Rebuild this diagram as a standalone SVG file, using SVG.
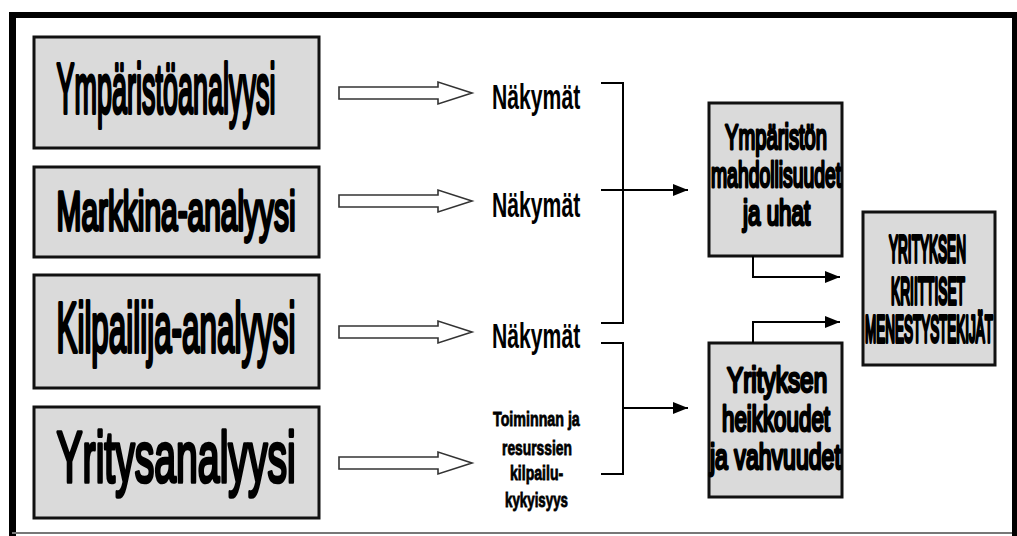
<svg xmlns="http://www.w3.org/2000/svg" width="1017" height="536" viewBox="0 0 1017 536">
  <defs>
    <style>
      .box { fill: #dadada; stroke: #111; stroke-width: 3; }
      .big { font-family: "Liberation Sans", Arial, sans-serif; fill: #000; stroke: #000; stroke-width: 3; stroke-linejoin: round; vector-effect: non-scaling-stroke; }
      .mid { font-family: "Liberation Sans", Arial, sans-serif; fill: #000; stroke: #000; stroke-width: 2.4; stroke-linejoin: round; vector-effect: non-scaling-stroke; font-size: 35px; }
      .cap { font-family: "Liberation Sans", Arial, sans-serif; fill: #000; stroke: #000; stroke-width: 3; stroke-linejoin: round; vector-effect: non-scaling-stroke; font-size: 37px; }
      .lbl { font-family: "Liberation Sans", Arial, sans-serif; font-weight: bold; fill: #000; }
      .sml { stroke: #000; stroke-width: 0.7; vector-effect: non-scaling-stroke; }
      .hollow { fill: #fff; stroke: #333; stroke-width: 1.6; stroke-linejoin: miter; }
      .wire { fill: none; stroke: #000; stroke-width: 2; }
    </style>
    <marker id="head" markerUnits="userSpaceOnUse" markerWidth="15" markerHeight="12" refX="15" refY="6" orient="auto">
      <path d="M0,0 L15,6 L0,12 Z" fill="#000"/>
    </marker>
  </defs>

  <rect width="1017" height="536" fill="#fff"/>

  <!-- outer frame -->
  <g id="frame">
    <line x1="9" y1="15" x2="1017" y2="15" stroke="#000" stroke-width="6"/>
    <line x1="12.5" y1="12" x2="12.5" y2="536" stroke="#000" stroke-width="7"/>
    <line x1="1014.5" y1="12" x2="1014.5" y2="536" stroke="#000" stroke-width="5"/>
    <line x1="12" y1="533" x2="1012" y2="533" stroke="#777" stroke-width="2"/>
  </g>

  <!-- analysis boxes (condensed lettering: horizontal scale + exact length) -->
  <g id="ymparistoanalyysi">
    <rect class="box" x="34" y="37" width="285" height="111"/>
    <text class="big" transform="translate(56.5,113) scale(0.38,1)" font-size="71" textLength="576" lengthAdjust="spacingAndGlyphs">Ympäristöanalyysi</text>
  </g>
  <g id="markkina-analyysi">
    <rect class="box" x="34" y="167" width="285" height="90"/>
    <text class="big" transform="translate(56.5,230) scale(0.53,1)" font-size="56" textLength="451" lengthAdjust="spacingAndGlyphs">Markkina-analyysi</text>
  </g>
  <g id="kilpailija-analyysi">
    <rect class="box" x="34" y="275" width="285" height="113"/>
    <text class="big" transform="translate(56.5,352) scale(0.45,1)" font-size="70" textLength="531" lengthAdjust="spacingAndGlyphs">Kilpailija-analyysi</text>
  </g>
  <g id="yritysanalyysi">
    <rect class="box" x="34" y="407" width="285" height="111"/>
    <text class="big" transform="translate(56.5,482) scale(0.54,1)" font-size="72" textLength="443" lengthAdjust="spacingAndGlyphs">Yritysanalyysi</text>
  </g>

  <!-- outcome labels -->
  <g id="nakymat-1">
    <text class="lbl" transform="translate(492,109) scale(0.6,1)" font-size="35" textLength="147" lengthAdjust="spacingAndGlyphs">Näkymät</text>
  </g>
  <g id="nakymat-2">
    <text class="lbl" transform="translate(492,217) scale(0.6,1)" font-size="35" textLength="147" lengthAdjust="spacingAndGlyphs">Näkymät</text>
  </g>
  <g id="nakymat-3">
    <text class="lbl" transform="translate(492,348) scale(0.6,1)" font-size="35" textLength="147" lengthAdjust="spacingAndGlyphs">Näkymät</text>
  </g>
  <g id="kilpailukykyisyys">
    <text class="lbl sml" transform="translate(493,426) scale(0.7,1)" font-size="20" textLength="124" lengthAdjust="spacingAndGlyphs">Toiminnan ja</text>
    <text class="lbl sml" transform="translate(502,455) scale(0.7,1)" font-size="20" textLength="100" lengthAdjust="spacingAndGlyphs">resurssien</text>
    <text class="lbl sml" transform="translate(510,480) scale(0.7,1)" font-size="20" textLength="76" lengthAdjust="spacingAndGlyphs">kilpailu-</text>
    <text class="lbl sml" transform="translate(505,507) scale(0.7,1)" font-size="20" textLength="90" lengthAdjust="spacingAndGlyphs">kykyisyys</text>
  </g>

  <!-- synthesis boxes -->
  <g id="mahdollisuudet-ja-uhat">
    <rect class="box" x="709" y="103" width="133" height="153"/>
    <text class="mid" transform="translate(725,149) scale(0.6,1)" textLength="170" lengthAdjust="spacingAndGlyphs">Ympäristön</text>
    <text class="mid" transform="translate(711,187) scale(0.6,1)" textLength="217" lengthAdjust="spacingAndGlyphs">mahdollisuudet</text>
    <text class="mid" transform="translate(743,225) scale(0.6,1)" textLength="112" lengthAdjust="spacingAndGlyphs">ja uhat</text>
  </g>
  <g id="heikkoudet-ja-vahvuudet">
    <rect class="box" x="709" y="343" width="133" height="154"/>
    <text class="mid" transform="translate(727,392) scale(0.6,1)" textLength="167" lengthAdjust="spacingAndGlyphs">Yrityksen</text>
    <text class="mid" transform="translate(722,431) scale(0.6,1)" textLength="180" lengthAdjust="spacingAndGlyphs">heikkoudet</text>
    <text class="mid" transform="translate(710,469) scale(0.6,1)" textLength="218" lengthAdjust="spacingAndGlyphs">ja vahvuudet</text>
  </g>
  <g id="menestystekijat">
    <rect class="box" x="863" y="212" width="132" height="153"/>
    <text class="cap" transform="translate(889,262) scale(0.37,1)" textLength="208" lengthAdjust="spacingAndGlyphs">YRITYKSEN</text>
    <text class="cap" transform="translate(891,304) scale(0.37,1)" textLength="200" lengthAdjust="spacingAndGlyphs">KRIITTISET</text>
    <text class="cap" transform="translate(865,342) scale(0.37,1)" textLength="346" lengthAdjust="spacingAndGlyphs">MENESTYSTEKIJÄT</text>
  </g>

  <!-- connectors -->
  <g id="connectors">
    <path class="hollow" d="M339,87 H438 V82 L472,93 L438,104 V99 H339 Z"/>
    <path class="hollow" d="M339,195 H438 V190 L472,201 L438,212 V207 H339 Z"/>
    <path class="hollow" d="M339,326 H438 V321 L472,332 L438,343 V338 H339 Z"/>
    <path class="hollow" d="M339,457 H438 V452 L472,463 L438,474 V469 H339 Z"/>

    <path class="wire" d="M601,83 H623 V323 H601"/>
    <path class="wire" d="M601,190 H688" marker-end="url(#head)"/>
    <path class="wire" d="M601,343 H623 V474 H601"/>
    <path class="wire" d="M623,408 H688" marker-end="url(#head)"/>

    <path class="wire" d="M753,256 V277 H840" marker-end="url(#head)"/>
    <path class="wire" d="M753,343 V322 H840" marker-end="url(#head)"/>
  </g>
</svg>
